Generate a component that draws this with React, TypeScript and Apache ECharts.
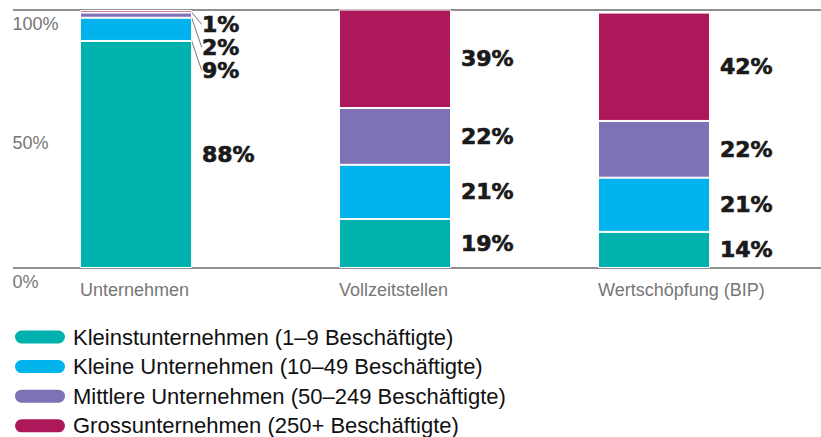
import React, { useEffect, useRef } from 'react';
import * as echarts from 'echarts';

const categories = ['Unternehmen', 'Vollzeitstellen', 'Wertschöpfung (BIP)'];
const seriesNames = [
  'Kleinstunternehmen (1–9 Beschäftigte)',
  'Kleine Unternehmen (10–49 Beschäftigte)',
  'Mittlere Unternehmen (50–249 Beschäftigte)',
  'Grossunternehmen (250+ Beschäftigte)',
];
const kleinst = [88, 19, 14];
const klein = [9, 21, 21];
const mittlere = [2, 22, 22];
const gross = [1, 39, 42];
const yTicks = [0, 50, 100];

const colors = ['#00b2ad', '#00b3ec', '#7e71b5', '#ac1859'];
const capsule = 'path://M7.5,0 H44.5 A7.5,7.5 0 0 1 44.5,15 H7.5 A7.5,7.5 0 0 1 7.5,0 Z';

export default function App() {
  const ref = useRef<HTMLDivElement>(null);
  useEffect(() => {
    document.body.style.margin = '0';
    const chart = echarts.init(ref.current!, null, { renderer: 'svg' });
    const values = [kleinst, klein, mittlere, gross];
    const smallShift: Record<number, number> = { 1: 41, 2: 32, 3: 13 };
    chart.setOption({
      animation: false,
      textStyle: { fontFamily: 'Liberation Sans' },
      grid: { left: 6.5, right: 37.5, top: 10, bottom: 169, outerBoundsMode: 'none', containLabel: false },
      legend: {
        orient: 'vertical',
        left: 13,
        top: 326,
        padding: 0,
        itemWidth: 52,
        itemHeight: 15,
        itemGap: 7.6,
        icon: capsule,
        data: seriesNames,
        textStyle: { fontSize: 22, lineHeight: 22, color: '#111', padding: [0, 0, 0, 2] },
      },
      xAxis: {
        type: 'category',
        data: categories,
        axisLine: { show: false },
        axisTick: { show: false },
        axisLabel: { color: '#767676', fontSize: 18, margin: 13, align: 'left', padding: [0, 0, 0, -56] },
      },
      yAxis: {
        type: 'value',
        min: yTicks[0],
        max: yTicks[yTicks.length - 1],
        interval: 50,
        axisLine: { show: false },
        axisTick: { show: false },
        splitLine: { show: false },
        axisLabel: {
          inside: true,
          margin: 6,
          formatter: (v: number) => (v === 50 ? `{m|${v}%}` : `{e|${v}%}`),
          rich: {
            e: { color: '#767676', fontSize: 18, lineHeight: 18, padding: [27, 0, 0, 0] },
            m: { color: '#767676', fontSize: 18, lineHeight: 18, padding: [7, 0, 0, 0] },
          },
        },
      },
      series: values.map((d, i) => ({
        name: seriesNames[i],
        type: 'bar',
        stack: 'total',
        data: d.map((v, j) =>
          j === 0 && smallShift[i] ? { value: v, labelLine: { show: true } } : v
        ),
        barWidth: 112,
        itemStyle: { color: colors[i], borderColor: '#fff', borderWidth: 1 },
        label: {
          show: true,
          position: 'right',
          distance: 10,
          formatter: '{c}%',
          fontFamily: 'DejaVu Sans',
          fontWeight: 'bold',
          fontSize: 22,
          lineHeight: 21,
          color: '#1a1a1a',
          textBorderColor: '#1a1a1a',
          textBorderWidth: 0.7,
        },
        labelLine: { show: false, lineStyle: { color: '#777', width: 1 } },
        labelLayout: (p: any) =>
          p.dataIndex === 0 && smallShift[i] ? { dy: smallShift[i] } : {},
      })),
    });
    const y0 = chart.convertToPixel({ yAxisIndex: 0 }, 0) as number;
    const y1 = chart.convertToPixel({ yAxisIndex: 0 }, 100) as number;
    const w = chart.getWidth();
    chart.setOption({
      graphic: [
        { type: 'line', shape: { x1: 13, y1: y0, x2: w, y2: y0 }, style: { stroke: '#222', lineWidth: 1.2 } },
        { type: 'line', shape: { x1: 13, y1: y1, x2: w, y2: y1 }, style: { stroke: '#222', lineWidth: 1.2 } },
      ],
    });
    return () => chart.dispose();
  }, []);
  return <div ref={ref} style={{ width: 821, height: 437 }} />;
}
